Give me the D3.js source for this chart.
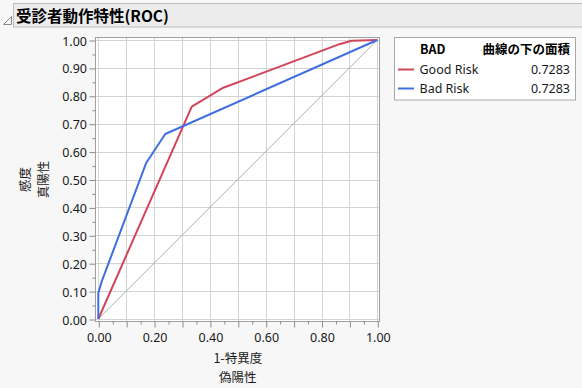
<!DOCTYPE html>
<html><head><meta charset="utf-8">
<script src="https://cdn.jsdelivr.net/npm/d3@7"></script>
<style>
html,body{margin:0;padding:0;background:#f7f7f7;}
svg{display:block;font-family:"Noto Sans CJK JP","Noto Sans",sans-serif;}
</style></head><body>
<script>
const title = "受診者動作特性(ROC)";
const seriesNames = ["Good Risk", "Bad Risk"];
const seriesColors = ["#d24459", "#3f6fdf"];
const aucValues = ["0.7283", "0.7283"];
const goodRiskFPR = [0, 0.335, 0.448, 0.864, 0.908, 1];
const goodRiskTPR = [0, 0.761, 0.829, 0.985, 0.997, 1];
const badRiskFPR = [0, 0, 0.012, 0.171, 0.240, 1];
const badRiskTPR = [0, 0.092, 0.134, 0.558, 0.663, 1];
const tickValues = [0,0.1,0.2,0.3,0.4,0.5,0.6,0.7,0.8,0.9,1.0];
const xLabelValues = [0,0.2,0.4,0.6,0.8,1.0];
const minorTicks = [0.05,0.15,0.25,0.35,0.45,0.55,0.65,0.75,0.85,0.95];
const xLabelLines = ["1-特異度", "偽陽性"];
const yLabelLines = ["感度", "真陽性"];
const legendTitle = "BAD";
const legendValueHeader = "曲線の下の面積";

const W = 582, H = 388;
const svg = d3.select("body").append("svg").attr("width", W).attr("height", H);

// title bar
svg.append("rect").attr("x",13.5).attr("y",3.5).attr("width",W-13).attr("height",23.5)
  .attr("fill","#ececec").attr("stroke","#bdbdbd");
svg.append("path").attr("d","M3.5,24.5 L11.5,24.5 L11.5,16.5 Z").attr("fill","none").attr("stroke","#8a8a8a");
svg.append("text").attr("x",16).attr("y",21.5).attr("font-size",15.5).attr("font-weight","bold")
  .attr("fill","#000").text(title);

const x = d3.scaleLinear().domain([0,1]).range([98.3,377.3]);
const y = d3.scaleLinear().domain([0,1]).range([319,40]);
const frame = {x0:95.5, x1:379.5, y0:37.5, y1:321.5};

svg.append("rect").attr("x",frame.x0).attr("y",frame.y0).attr("width",frame.x1-frame.x0)
  .attr("height",frame.y1-frame.y0).attr("fill","#fff");

// grid
const g = svg.append("g");
g.selectAll(".vg").data(tickValues).enter().append("line")
  .attr("x1",d=>Math.round(x(d))+0.5).attr("x2",d=>Math.round(x(d))+0.5)
  .attr("y1",frame.y0).attr("y2",frame.y1).attr("stroke","#d3d3d3");
g.selectAll(".hg").data(tickValues).enter().append("line")
  .attr("y1",d=>Math.round(y(d))+0.5).attr("y2",d=>Math.round(y(d))+0.5)
  .attr("x1",frame.x0).attr("x2",frame.x1).attr("stroke","#d3d3d3");

// diagonal
svg.append("line").attr("x1",x(0)).attr("y1",y(0)).attr("x2",x(1)).attr("y2",y(1))
  .attr("stroke","#999").attr("stroke-width",0.8);

// curves
const line = d3.line().x(d=>x(d[0])).y(d=>y(d[1]));
const curves = [
  d3.zip(goodRiskFPR, goodRiskTPR),
  d3.zip(badRiskFPR, badRiskTPR)
];
curves.forEach((c,i)=>{
  svg.append("path").datum(c).attr("d",line).attr("fill","none")
    .attr("stroke",seriesColors[i]).attr("stroke-width",2).attr("stroke-linejoin","round");
});

// frame
svg.append("rect").attr("x",frame.x0).attr("y",frame.y0).attr("width",frame.x1-frame.x0)
  .attr("height",frame.y1-frame.y0).attr("fill","none").attr("stroke","#a0a0a0");

// axes
const fmt = d3.format(".2f");
const xAxis = d3.axisBottom(x).tickValues(tickValues)
  .tickFormat(d => xLabelValues.some(v => Math.abs(v-d) < 1e-9) ? fmt(d) : "")
  .tickSize(6).tickSizeOuter(0);
const yAxis = d3.axisLeft(y).tickValues(tickValues).tickFormat(fmt).tickSize(6).tickSizeOuter(0);
const xa = svg.append("g").attr("transform",`translate(0.5,${frame.y1})`).call(xAxis);
const ya = svg.append("g").attr("transform",`translate(${frame.x0},0.5)`).call(yAxis);
const xm = svg.append("g").attr("transform",`translate(0.5,${frame.y1})`)
  .call(d3.axisBottom(x).tickValues(minorTicks).tickFormat("").tickSize(3).tickSizeOuter(0));
const ym = svg.append("g").attr("transform",`translate(${frame.x0},0.5)`)
  .call(d3.axisLeft(y).tickValues(minorTicks).tickFormat("").tickSize(3).tickSizeOuter(0));
[xa,ya,xm,ym].forEach(a=>{
  a.select(".domain").remove();
  a.selectAll("line").attr("stroke","#8c8c8c");
  a.selectAll("text").attr("font-size",12.5).attr("fill","#1a1a1a")
    .attr("font-family","'Noto Sans','Open Sans',sans-serif");
});
xa.selectAll("text").attr("dy",null).attr("y",20.5);
ya.selectAll("text").attr("x",-8.5).attr("dy","0.36em");

// axis labels
xLabelLines.forEach((t,i)=>{
  svg.append("text").attr("x",x(0.5)).attr("y",362.5+i*19).attr("text-anchor","middle")
    .attr("font-size",12.5).attr("fill","#1a1a1a").text(t);
});
yLabelLines.forEach((t,i)=>{
  svg.append("text").attr("transform",`translate(${30+i*18},${y(0.5)}) rotate(-90)`)
    .attr("text-anchor","middle").attr("font-size",12.5).attr("fill","#1a1a1a").text(t);
});

// legend
const lg = svg.append("g");
lg.append("rect").attr("x",394.5).attr("y",37.5).attr("width",181).attr("height",62.5)
  .attr("fill","#fff").attr("stroke","#a8a8a8");
lg.append("text").attr("x",420).attr("y",53.5).attr("font-size",12.5).attr("font-weight","bold")
  .text(legendTitle);
lg.append("text").attr("x",570).attr("y",53.5).attr("text-anchor","end").attr("font-size",12.5)
  .attr("font-weight","bold").text(legendValueHeader);
seriesNames.forEach((n,i)=>{
  const yy = 69.5 + i*19;
  lg.append("line").attr("x1",398).attr("x2",414).attr("y1",yy).attr("y2",yy)
    .attr("stroke",seriesColors[i]).attr("stroke-width",2);
  lg.append("text").attr("x",419.5).attr("y",yy+4.5).attr("font-size",12.5).attr("fill","#1a1a1a")
    .attr("font-family","'Noto Sans','Open Sans',sans-serif").text(n);
  lg.append("text").attr("x",570).attr("y",yy+4.5).attr("text-anchor","end").attr("font-size",12.5)
    .attr("fill","#1a1a1a").attr("font-family","'Noto Sans','Open Sans',sans-serif").text(aucValues[i]);
});
</script>
</body></html>
